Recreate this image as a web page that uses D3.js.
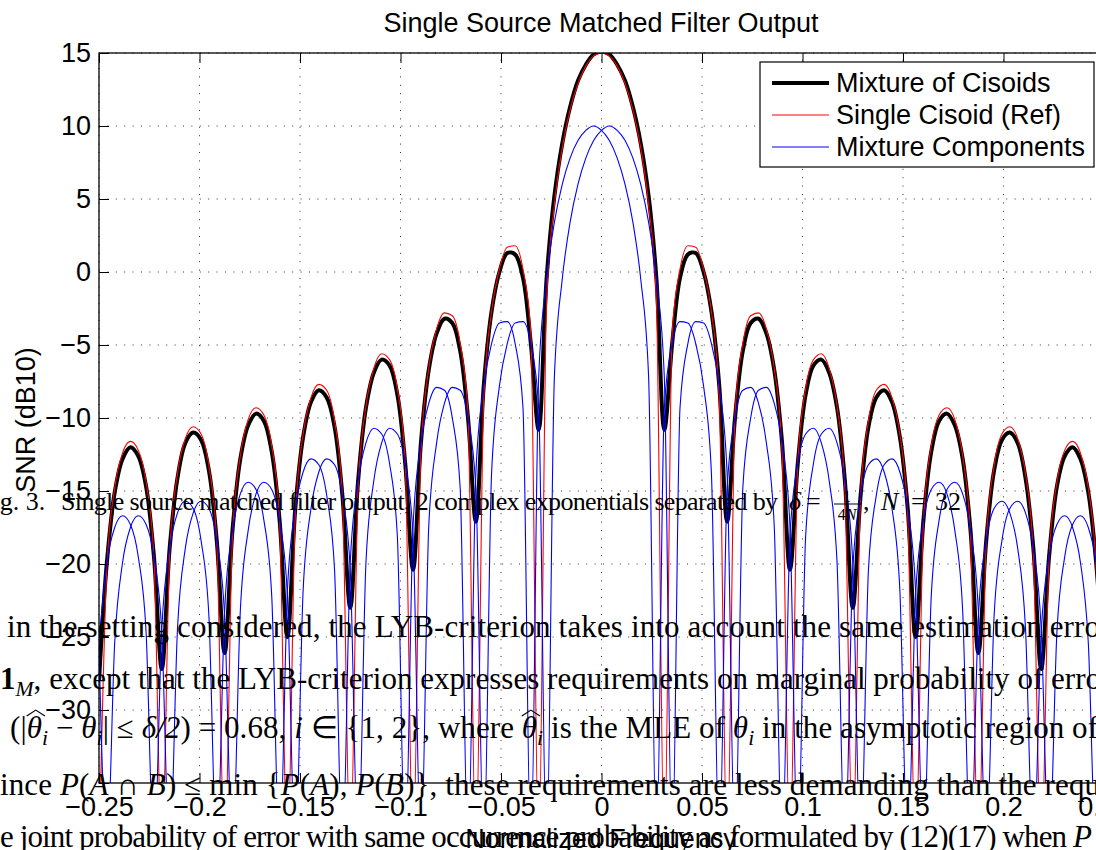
<html>
<head>
<meta charset="utf-8">
<title>Single Source Matched Filter Output</title>
<script type="text/javascript" src="https://cdn.jsdelivr.net/npm/d3@7/dist/d3.min.js"></script>
<style type="text/css">
body { margin: 0; background: white; }
.axis text { font-family: "Liberation Sans", Arial, sans-serif; font-size: 27px; fill: #000; }
.axis path, .axis line { stroke: #000; stroke-width: 1px; }
.grid line { stroke: #000; stroke-width: 1px; stroke-dasharray: 1 7.4; opacity: 0.8; }
.lbl { font-family: "Liberation Sans", Arial, sans-serif; font-size: 27px; fill: #000; }
.paper { font-family: "Liberation Serif", "Times New Roman", serif; fill: #000; }
</style>
</head>
<body>
<script>

var freq = [-0.25, -0.24609, -0.24219, -0.23828, -0.23438, -0.23047, -0.22656, -0.22266,
  -0.21875, -0.21484, -0.21094, -0.20703, -0.20313, -0.19922, -0.19531, -0.19141,
  -0.1875, -0.18359, -0.17969, -0.17578, -0.17188, -0.16797, -0.16406, -0.16016,
  -0.15625, -0.15234, -0.14844, -0.14453, -0.14063, -0.13672, -0.13281, -0.12891,
  -0.125, -0.12109, -0.11719, -0.11328, -0.10938, -0.10547, -0.10156, -0.09766,
  -0.09375, -0.08984, -0.08594, -0.08203, -0.07813, -0.07422, -0.07031, -0.06641,
  -0.0625, -0.05859, -0.05469, -0.05078, -0.04688, -0.04297, -0.03906, -0.03516,
  -0.03125, -0.02734, -0.02344, -0.01953, -0.01563, -0.01172, -0.00781, -0.00391,
  0,
  0.00391, 0.00781, 0.01172, 0.01563, 0.01953, 0.02344, 0.02734, 0.03125,
  0.03516, 0.03906, 0.04297, 0.04688, 0.05078, 0.05469, 0.05859, 0.0625,
  0.06641, 0.07031, 0.07422, 0.07813, 0.08203, 0.08594, 0.08984, 0.09375,
  0.09766, 0.10156, 0.10547, 0.10938, 0.11328, 0.11719, 0.12109, 0.125,
  0.12891, 0.13281, 0.13672, 0.14063, 0.14453, 0.14844, 0.15234, 0.15625,
  0.16016, 0.16406, 0.16797, 0.17188, 0.17578, 0.17969, 0.18359, 0.1875,
  0.19141, 0.19531, 0.19922, 0.20313, 0.20703, 0.21094, 0.21484, 0.21875,
  0.22266, 0.22656, 0.23047, 0.23438, 0.23828, 0.24219, 0.24609, 0.25];

// Mixture of Cisoids (thick black), dB
var mixture = [-28.0, -19.9, -15.1, -12.8, -12.0, -12.6, -14.7, -19.5,
  -27.2, -18.9, -14.1, -11.7, -11.0, -11.5, -13.6, -18.4,
  -26.1, -17.7, -12.8, -10.5, -9.7, -10.2, -12.3, -17.0,
  -25.0, -16.2, -11.3, -8.9, -8.1, -8.6, -10.6, -15.3,
  -23.0, -14.3, -9.3, -6.9, -6.0, -6.4, -8.4, -13.1,
  -20.4, -11.7, -6.7, -4.2, -3.2, -3.5, -5.4, -10.0,
  -17.1, -7.8, -2.7, 0.0, 1.3, 1.2, -0.4, -4.9,
  -10.8, -0.5, 5.2, 8.8, 11.3, 13.1, 14.2, 14.9,
  15.1,
  14.9, 14.2, 13.1, 11.3, 8.8, 5.2, -0.5, -10.8,
  -4.9, -0.4, 1.2, 1.3, 0.0, -2.7, -7.8, -17.1,
  -10.0, -5.4, -3.5, -3.2, -4.2, -6.7, -11.7, -20.4,
  -13.1, -8.4, -6.4, -6.0, -6.9, -9.3, -14.3, -23.0,
  -15.3, -10.6, -8.6, -8.1, -8.9, -11.3, -16.2, -25.0,
  -17.0, -12.3, -10.2, -9.7, -10.5, -12.8, -17.7, -26.1,
  -18.4, -13.6, -11.5, -11.0, -11.7, -14.1, -18.9, -27.2,
  -19.5, -14.7, -12.6, -12.0, -12.8, -15.1, -19.9, -28.0];

// Single Cisoid (Ref), red; -40 = null below the axis
var singleRef = [-40, -20.3, -14.8, -12.4, -11.6, -12.2, -14.4, -19.6,
  -40, -19.3, -13.8, -11.4, -10.6, -11.1, -13.3, -18.5,
  -40, -18.1, -12.6, -10.1, -9.3, -9.8, -11.9, -17.1,
  -40, -16.7, -11.1, -8.6, -7.7, -8.1, -10.2, -15.3,
  -40, -14.8, -9.2, -6.6, -5.6, -6.0, -8.0, -13.0,
  -40, -12.3, -6.6, -3.9, -2.8, -3.0, -4.9, -9.7,
  -40, -8.7, -2.7, 0.2, 1.7, 1.8, 0.2, -4.2,
  -40, -2.1, 4.6, 8.5, 11.1, 12.9, 14.1, 14.8,
  15.0,
  14.8, 14.1, 12.9, 11.1, 8.5, 4.6, -2.1, -40,
  -4.2, 0.2, 1.8, 1.7, 0.2, -2.7, -8.7, -40,
  -9.7, -4.9, -3.0, -2.8, -3.9, -6.6, -12.3, -40,
  -13.0, -8.0, -6.0, -5.6, -6.6, -9.2, -14.8, -40,
  -15.3, -10.2, -8.1, -7.7, -8.6, -11.1, -16.7, -40,
  -17.1, -11.9, -9.8, -9.3, -10.1, -12.6, -18.1, -40,
  -18.5, -13.3, -11.1, -10.6, -11.4, -13.8, -19.3, -40,
  -19.6, -14.4, -12.2, -11.6, -12.4, -14.8, -20.3, -40];

// Mixture Components (blue), lower and upper cisoid
var compLow = [-25.4, -19.9, -17.5, -16.7, -17.3, -19.5, -24.7, -40,
  -24.4, -18.9, -16.5, -15.7, -16.2, -18.4, -23.6, -40,
  -23.2, -17.7, -15.2, -14.4, -14.9, -17.0, -22.2, -40,
  -21.8, -16.2, -13.7, -12.8, -13.2, -15.3, -20.4, -40,
  -19.9, -14.3, -11.7, -10.7, -11.1, -13.1, -18.1, -40,
  -17.4, -11.7, -9.0, -7.9, -8.1, -10.0, -14.8, -40,
  -13.8, -7.8, -4.9, -3.5, -3.4, -4.9, -9.3, -40,
  -7.2, -0.5, 3.4, 6.0, 7.8, 9.0, 9.7, 10.0,
  9.7,
  9.0, 7.8, 6.0, 3.4, -0.5, -7.2, -40, -9.3,
  -4.9, -3.4, -3.5, -4.9, -7.8, -13.8, -40, -14.8,
  -10.0, -8.1, -7.9, -9.0, -11.7, -17.4, -40, -18.1,
  -13.1, -11.1, -10.7, -11.7, -14.3, -19.9, -40, -20.4,
  -15.3, -13.2, -12.8, -13.7, -16.2, -21.8, -40, -22.2,
  -17.0, -14.9, -14.4, -15.2, -17.7, -23.2, -40, -23.6,
  -18.4, -16.2, -15.7, -16.5, -18.9, -24.4, -40, -24.7,
  -19.5, -17.3, -16.7, -17.5, -19.9, -25.4, -40, -25.6];

var compHigh = [-25.6, -40, -25.4, -19.9, -17.5, -16.7, -17.3, -19.5,
  -24.7, -40, -24.4, -18.9, -16.5, -15.7, -16.2, -18.4,
  -23.6, -40, -23.2, -17.7, -15.2, -14.4, -14.9, -17.0,
  -22.2, -40, -21.8, -16.2, -13.7, -12.8, -13.2, -15.3,
  -20.4, -40, -19.9, -14.3, -11.7, -10.7, -11.1, -13.1,
  -18.1, -40, -17.4, -11.7, -9.0, -7.9, -8.1, -10.0,
  -14.8, -40, -13.8, -7.8, -4.9, -3.5, -3.4, -4.9,
  -9.3, -40, -7.2, -0.5, 3.4, 6.0, 7.8, 9.0,
  9.7,
  10.0, 9.7, 9.0, 7.8, 6.0, 3.4, -0.5, -7.2,
  -40, -9.3, -4.9, -3.4, -3.5, -4.9, -7.8, -13.8,
  -40, -14.8, -10.0, -8.1, -7.9, -9.0, -11.7, -17.4,
  -40, -18.1, -13.1, -11.1, -10.7, -11.7, -14.3, -19.9,
  -40, -20.4, -15.3, -13.2, -12.8, -13.7, -16.2, -21.8,
  -40, -22.2, -17.0, -14.9, -14.4, -15.2, -17.7, -23.2,
  -40, -23.6, -18.4, -16.2, -15.7, -16.5, -18.9, -24.4,
  -40, -24.7, -19.5, -17.3, -16.7, -17.5, -19.9, -25.4];

var xTicks = [-0.25, -0.2, -0.15, -0.1, -0.05, 0, 0.05, 0.1, 0.15, 0.2, 0.25];
var yTicks = [15, 10, 5, 0, -5, -10, -15, -20, -25, -30];
var legendNames = ["Mixture of Cisoids", "Single Cisoid (Ref)", "Mixture Components"];

var width = 1096,
  height = 850,
  pLeft = 99, pRight = 1104, pTop = 53, pBottom = 783;

var svg = d3.select("body").append("svg").attr("width", width).attr("height", height).style("background", "white");

var x = d3.scaleLinear().domain([-0.25, 0.25]).range([pLeft, pRight]);
var y = d3.scaleLinear().domain([-35, 15]).range([pBottom, pTop]);

// dotted grid
var grid = svg.append("g").attr("class", "grid");
grid.selectAll("line.v").data(xTicks).enter().append("line").attr("class", "v")
  .attr("x1", function(d){ return x(d); }).attr("x2", function(d){ return x(d); })
  .attr("y1", pBottom).attr("y2", pTop);
grid.selectAll("line.h").data(yTicks).enter().append("line").attr("class", "h")
  .attr("x1", pLeft).attr("x2", pRight)
  .attr("y1", function(d){ return y(d); }).attr("y2", function(d){ return y(d); });

svg.append("defs").append("clipPath").attr("id", "plotclip").append("rect")
  .attr("x", pLeft).attr("y", pTop).attr("width", pRight - pLeft).attr("height", pBottom - pTop);

var line = d3.line()
  .x(function(d, i){ return x(freq[i]); })
  .y(function(d){ return y(d); })
  .curve(d3.curveMonotoneX);
var lineMix = d3.line()
  .x(function(d, i){ return x(freq[i]); })
  .y(function(d){ return y(d); })
  .curve(d3.curveCatmullRom.alpha(0.5));

var curves = svg.append("g").attr("clip-path", "url(#plotclip)");
curves.append("path").datum(mixture).attr("d", lineMix)
  .attr("fill", "none").attr("stroke", "#000").attr("stroke-width", 4);
curves.append("path").datum(singleRef).attr("d", line)
  .attr("fill", "none").attr("stroke", "#ff0000").attr("stroke-width", 1.1);
curves.selectAll("path.comp").data([compLow, compHigh]).enter().append("path").attr("class", "comp")
  .attr("d", line).attr("fill", "none").attr("stroke", "#0000ff").attr("stroke-width", 1.1);

// axes, ticks inside
svg.append("g").attr("class", "axis").attr("transform", "translate(0," + pBottom + ")")
  .call(d3.axisBottom(x).tickValues(xTicks).tickSize(-10).tickPadding(14).tickFormat(d3.format("")));
svg.append("g").attr("class", "axis").attr("transform", "translate(0," + pTop + ")")
  .call(d3.axisTop(x).tickValues(xTicks).tickSize(-10).tickFormat(""));
svg.append("g").attr("class", "axis").attr("transform", "translate(" + pLeft + ",0)")
  .call(d3.axisLeft(y).tickValues(yTicks.concat([-35])).tickSize(-10).tickPadding(8)
    .tickFormat(function(d){ return d === -35 ? "" : d3.format("")(d); }));
svg.selectAll(".axis .domain").remove();
svg.append("rect").attr("x", pLeft).attr("y", pTop).attr("width", pRight - pLeft).attr("height", pBottom - pTop)
  .attr("fill", "none").attr("stroke", "#000").attr("stroke-width", 1.3);

svg.append("text").attr("class", "lbl").attr("x", 601).attr("y", 32).attr("text-anchor", "middle")
  .text("Single Source Matched Filter Output");
svg.append("text").attr("class", "lbl").attr("x", 601).attr("y", 848).attr("text-anchor", "middle")
  .text("Normalized Frequency");
svg.append("text").attr("class", "lbl").attr("transform", "translate(35,420) rotate(-90)")
  .attr("text-anchor", "middle").text("SNR (dB10)");

// legend
var lg = svg.append("g");
lg.append("rect").attr("x", 760).attr("y", 62).attr("width", 334).attr("height", 105)
  .attr("fill", "white").attr("stroke", "#000").attr("stroke-width", 1.2);
var lgStyle = [["#000", 4], ["#ff0000", 1], ["#0000ff", 1]];
lg.selectAll("line").data(legendNames).enter().append("line")
  .attr("x1", 772).attr("x2", 829)
  .attr("y1", function(d, i){ return 83 + i * 32; }).attr("y2", function(d, i){ return 83 + i * 32; })
  .attr("stroke", function(d, i){ return lgStyle[i][0]; })
  .attr("stroke-width", function(d, i){ return lgStyle[i][1]; });
lg.selectAll("text").data(legendNames).enter().append("text").attr("class", "lbl")
  .attr("x", 836).attr("y", function(d, i){ return 92 + i * 32; })
  .text(function(d){ return d; });

// page text showing through the figure
var paper = svg.append("g").attr("class", "paper");

function addLine(yb, x0, x1, size, parts) {
  var t = paper.append("text").attr("x", x0).attr("y", yb).attr("font-size", size)
    .attr("textLength", x1 - x0).attr("lengthAdjust", "spacing");
  var shift = 0, count = 0, hats = [];
  parts.forEach(function(p) {
    var txt = p[1] === "hat" ? "\u03b8" : p[0];
    var s = t.append("tspan").text(txt);
    var want = (p[1] === "sub") ? 7 : 0;
    if (want !== shift) { s.attr("dy", want - shift); shift = want; }
    if (p[1] === "hat") hats.push(count);
    if (p[1] === "i" || p[1] === "sub" || p[1] === "hat") s.attr("font-style", "italic");
    if (p[1] === "sub") s.attr("font-size", size * 0.7);
    if (p[1] === "b") s.attr("font-weight", "bold");
    count += txt.length;
  });
  // wide hats drawn over the estimated thetas
  hats.forEach(function(k) {
    var b = t.node().getExtentOfChar(k);
    var ht = yb - size * 0.9;
    paper.append("path")
      .attr("d", "M" + (b.x) + "," + (ht + 6) + "L" + (b.x + b.width / 2 + 1.5) + "," + ht + "L" + (b.x + b.width + 3) + "," + (ht + 6))
      .attr("fill", "none").attr("stroke", "#000").attr("stroke-width", 1.2);
  });
}

paper.append("text").attr("x", -22).attr("y", 510).attr("font-size", 26).text("Fig. 3.");
paper.append("text").attr("x", 61).attr("y", 510).attr("font-size", 26)
  .attr("textLength", 717).attr("lengthAdjust", "spacing")
  .text("Single source matched filter output, 2 complex exponentials separated by");
paper.append("text").attr("x", 789).attr("y", 510).attr("font-size", 26).attr("font-style", "italic").text("\u03b4");
paper.append("text").attr("x", 806).attr("y", 510).attr("font-size", 26).text("=");
paper.append("text").attr("x", 847).attr("y", 502).attr("font-size", 16).attr("text-anchor", "middle").text("1");
paper.append("line").attr("x1", 834).attr("x2", 861).attr("y1", 504).attr("y2", 504).attr("stroke", "#000").attr("stroke-width", 1);
paper.append("text").attr("x", 847).attr("y", 520).attr("font-size", 16).attr("text-anchor", "middle")
  .html("4<tspan font-style='italic'>N</tspan>");
paper.append("text").attr("x", 863).attr("y", 510).attr("font-size", 26).text(",");
paper.append("text").attr("x", 881).attr("y", 510).attr("font-size", 26).attr("font-style", "italic").text("N");
paper.append("text").attr("x", 911).attr("y", 510).attr("font-size", 26).text("=");
paper.append("text").attr("x", 935).attr("y", 510).attr("font-size", 26).text("32");

addLine(637, 7, 1100, 31, [["in the setting considered, the LYB-criterion takes into account the same estimation erro", ""]]);
addLine(689, 0, 1101, 31, [["1", "b"], ["M", "sub"], [", except that the LYB-criterion expresses requirements on marginal probability of erro", ""]]);
addLine(738, 10, 1098, 31, [["(|", ""], ["", "hat"], ["i", "sub"], [" \u2212 ", ""], ["\u03b8", "i"], ["i", "sub"],
  ["| \u2264 ", ""], ["\u03b4/2", "i"], [") = 0.68, ", ""], ["i", "i"], [" \u2208 {1, 2}, where ", ""], ["", "hat"], ["i", "sub"],
  [" is the MLE of ", ""], ["\u03b8", "i"], ["i", "sub"], [" in the asymptotic region of", ""]]);
addLine(795, 0, 1100, 31, [["ince ", ""], ["P", "i"], ["(", ""], ["A", "i"], [" \u2229 ", ""], ["B", "i"], [") \u2264 min {", ""],
  ["P", "i"], ["(", ""], ["A", "i"], ["), ", ""], ["P", "i"], ["(", ""], ["B", "i"], [")}, these requirements are less demanding than the requ", ""]]);
addLine(847, 0, 1092, 31, [["e joint probability of error with same occurrence probability as formulated by (12)(17) when ", ""], ["P", "i"]]);

</script>
</body>
</html>
